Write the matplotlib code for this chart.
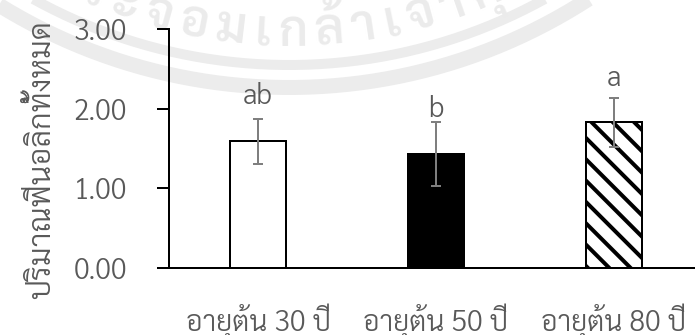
import numpy as np
import matplotlib
matplotlib.use("Agg")
import matplotlib.pyplot as plt
from matplotlib.font_manager import FontProperties
from matplotlib.textpath import TextPath

# total phenolics by tree age
groups = ["อายุต้น 30 ปี", "อายุต้น 50 ปี", "อายุต้น 80 ปี"]
means = [1.59, 1.43, 1.83]
sds = [0.28, 0.40, 0.31]
letters = ["ab", "b", "a"]
yticks = [0.0, 1.0, 2.0, 3.0]
ylabel = "ปริมาณฟีนอลิกทั้งหมด"
stamp = "สถาบันเทคโนโลยีพระจอมเกล้าเจ้าคุณทหารลาดกระบัง"

DPI = 64
W, H = 695, 335


def pt(px):
    return px * 72.0 / DPI


FONT = "Sarabun"
GREY = "#595959"
TXT = 28.5

fig = plt.figure(figsize=(W / DPI, H / DPI), dpi=DPI)

# faint university stamp behind the chart
wm = fig.add_axes([0, 0, 1, 1], zorder=0)
wm.set_xlim(0, W)
wm.set_ylim(H, 0)
wm.axis("off")
cx, cy = 289.0, -464.0
t = np.linspace(-np.pi / 2, np.pi / 2, 400)
for r, lw in [(551.5, 15), (529.0, 10)]:
    wm.plot(cx + r * np.sin(t), cy + r * np.cos(t), color="#ececec",
            lw=pt(lw), solid_capstyle="butt")

marks = set(range(0x0E31, 0x0E32)) | set(range(0x0E34, 0x0E3B)) | set(range(0x0E47, 0x0E4F))
clusters = []
starts = []
for i, ch in enumerate(stamp):
    if ord(ch) in marks and clusters:
        clusters[-1] += ch
    else:
        clusters.append(ch)
        starts.append(i)

wm_size = 50
wm_prop = FontProperties(family=FONT, weight=600)
widths = []
for c in clusters:
    base = "".join(ch for ch in c if ord(ch) not in marks) or c
    ext = TextPath((0, 0), base, size=wm_size, prop=wm_prop).get_extents()
    widths.append(ext.x1 + 11)
widths = np.array(widths)
centres = np.cumsum(widths) - widths / 2
r_text = 510.0
k = starts.index(stamp.index("กล้า"))
theta0 = np.arcsin((293 - cx) / r_text)
for c, s in zip(clusters, centres):
    th = theta0 + (s - centres[k]) / r_text
    x = cx + r_text * np.sin(th)
    y = cy + r_text * np.cos(th)
    if -60 < x < W + 60 and y > -60:
        wm.text(x, y, c, fontsize=pt(wm_size), fontproperties=wm_prop,
                color="#ebebeb", ha="center", va="baseline",
                rotation=np.degrees(th), rotation_mode="anchor")

# main bar chart, right part runs past the figure edge
left, right, bottom, top = 169, 703, 268, 29
ax = fig.add_axes([left / W, 1 - bottom / H, (right - left) / W, (bottom - top) / H],
                  zorder=1)
ax.patch.set_alpha(0)

plt.rcParams["hatch.linewidth"] = pt(4)
plt.rcParams["hatch.color"] = "black"
x = np.arange(len(groups))
faces = ["white", "black", "white"]
hatches = ["", "", "\\"]
ax.bar(x, means, width=0.315, color=faces, edgecolor="black",
       linewidth=pt(2), hatch=hatches, zorder=2)
ax.errorbar(x, means, yerr=sds, fmt="none", ecolor="#7f7f7f",
            elinewidth=pt(2), capsize=pt(5), capthick=pt(2), zorder=3)

letter_gap = [15, 5, 12]
for xi, m, s, lab, g in zip(x, means, sds, letters, letter_gap):
    ax.annotate(lab, (xi, m + s), xytext=(0, pt(g)), textcoords="offset points",
                ha="center", va="baseline", color=GREY,
                fontsize=pt(TXT), family=FONT, weight=300)

ax.set_xlim(-0.5, 2.5)
ax.set_ylim(0, 3)
ax.set_yticks(yticks)
ax.set_yticklabels([f"{v:.2f}" for v in yticks])
ax.set_xticks(x)
ax.set_xticklabels(groups)
for sp in ["top", "right"]:
    ax.spines[sp].set_visible(False)
for sp in ["left", "bottom"]:
    ax.spines[sp].set_linewidth(pt(2))
    ax.spines[sp].set_color("black")
ax.tick_params(axis="y", length=pt(12), width=pt(2), color="black",
               pad=pt(30), labelcolor=GREY, labelsize=pt(TXT))
ax.tick_params(axis="x", length=0, pad=pt(36), labelcolor=GREY, labelsize=pt(TXT))
for lab in ax.get_xticklabels() + ax.get_yticklabels():
    lab.set_family(FONT)
    lab.set_weight(300)

fig.text(42 / W, 1 - 160 / H, ylabel, rotation=90, ha="center", va="center",
         color=GREY, fontsize=pt(31), family=FONT, weight=300)

fig.savefig("out.png", dpi=DPI)
